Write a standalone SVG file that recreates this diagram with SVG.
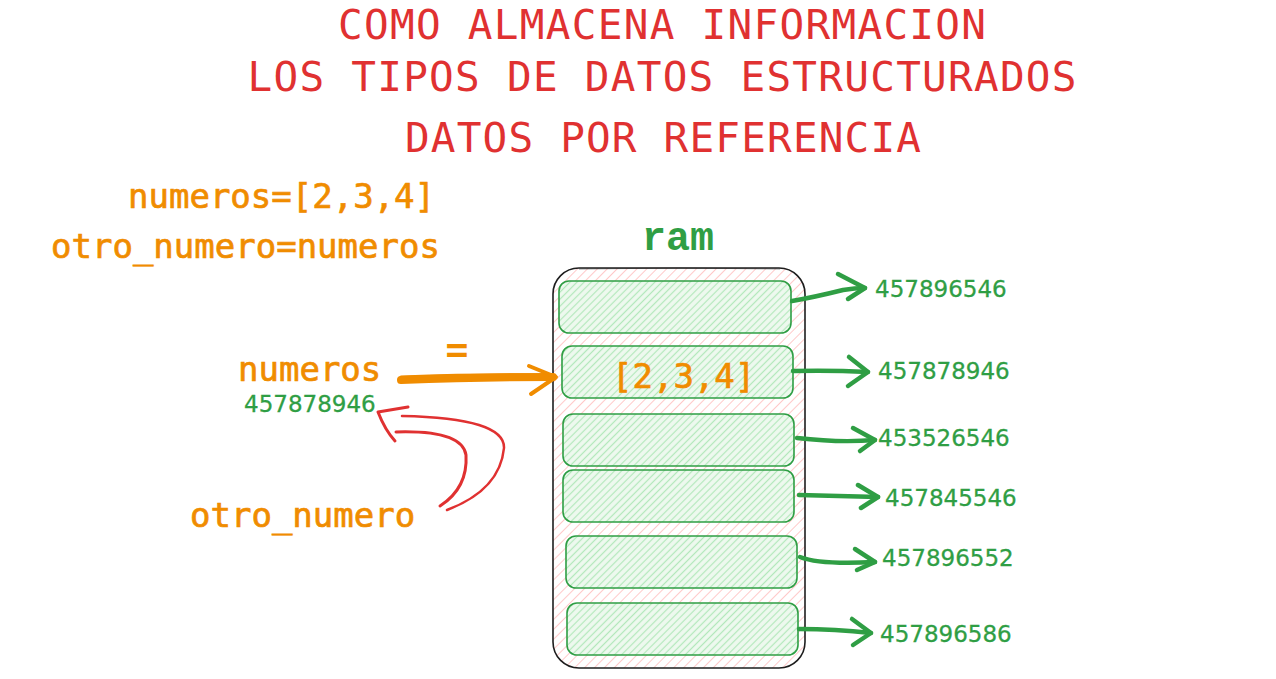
<svg xmlns="http://www.w3.org/2000/svg" width="1276" height="679" viewBox="0 0 1276 679">
  <defs>
    <pattern id="hatchPink" patternUnits="userSpaceOnUse" width="7" height="7" patternTransform="rotate(-45)">
      <line x1="0" y1="3.5" x2="7" y2="3.5" stroke="#ffc9c9" stroke-width="1"/>
    </pattern>
    <pattern id="hatchGreen" patternUnits="userSpaceOnUse" width="5" height="5" patternTransform="rotate(-45)">
      <rect width="5" height="5" fill="#eef9ef"/>
      <line x1="0" y1="2.5" x2="5" y2="2.5" stroke="#b2e8bb" stroke-width="1.2"/>
    </pattern>
  </defs>
  <style>
    .title { font-family: "DejaVu Sans Mono", "Liberation Mono", monospace; font-size: 41px; fill: #e03131; text-anchor: middle; }
    .code { font-family: "DejaVu Sans Mono", "Liberation Mono", monospace; font-size: 34px; fill: #f08c00; stroke: #f08c00; stroke-width: 0.7; }
    .addr { font-family: "DejaVu Sans", "Noto Sans", sans-serif; font-size: 23px; fill: #2f9e44; stroke: #2f9e44; stroke-width: 0.3; }
    .cell { fill: url(#hatchGreen); stroke: #2f9e44; stroke-width: 1.6; }
    .garrow { fill: none; stroke: #2f9e44; stroke-width: 4.5; stroke-linecap: round; stroke-linejoin: round; }
  </style>

  <rect width="1276" height="679" fill="#ffffff"/>

  <g id="titles">
    <text class="title" x="662" y="39" textLength="648" lengthAdjust="spacing">COMO ALMACENA INFORMACION</text>
    <text class="title" x="662" y="91" textLength="829" lengthAdjust="spacing">LOS TIPOS DE DATOS ESTRUCTURADOS</text>
    <text class="title" x="663" y="152" textLength="516" lengthAdjust="spacing">DATOS POR REFERENCIA</text>
  </g>

  <g id="code">
    <text class="code" x="128" y="208">numeros=[2,3,4]</text>
    <text class="code" x="51" y="258">otro_numero=numeros</text>
  </g>

  <g id="ram-label">
    <text x="678" y="250" text-anchor="middle" font-family="Liberation Mono, monospace" font-weight="bold" font-size="40" fill="#2f9e44">ram</text>
  </g>

  <g id="ram">
    <rect x="553" y="268" width="252" height="400" rx="26" fill="url(#hatchPink)" stroke="#1e1e1e" stroke-width="1.6"/>
    <path d="M579 269 Q680 267 780 269" fill="none" stroke="#1e1e1e" stroke-width="0.8" opacity="0.6"/>
  </g>

  <g id="cell1"><rect class="cell" x="559" y="281" width="232" height="52" rx="10"/></g>
  <g id="cell2">
    <rect class="cell" x="562" y="346" width="231" height="52" rx="10"/>
    <text class="code" x="612" y="388" font-size="33">[2,3,4]</text>
  </g>
  <g id="cell3"><rect class="cell" x="563" y="414" width="231" height="52" rx="10"/></g>
  <g id="cell4"><rect class="cell" x="563" y="470" width="231" height="52" rx="10"/></g>
  <g id="cell5"><rect class="cell" x="566" y="536" width="231" height="52" rx="10"/></g>
  <g id="cell6"><rect class="cell" x="567" y="603" width="231" height="52" rx="10"/></g>

  <g id="numeros-var">
    <text class="code" x="238" y="381">numeros</text>
    <text class="addr" x="244" y="412">457878946</text>
  </g>

  <g id="otro-numero-var">
    <text class="code" x="190" y="527">otro_numero</text>
  </g>

  <g id="equals">
    <text x="457" y="362" text-anchor="middle" font-family="DejaVu Sans Mono, monospace" font-weight="bold" font-size="38" fill="#f08c00">=</text>
  </g>

  <g id="addresses">
    <text class="addr" x="875" y="297">457896546</text>
    <text class="addr" x="878" y="379">457878946</text>
    <text class="addr" x="878" y="446">453526546</text>
    <text class="addr" x="885" y="506">457845546</text>
    <text class="addr" x="882" y="566">457896552</text>
    <text class="addr" x="880" y="642">457896586</text>
  </g>

  <g id="connectors">
    <!-- orange pointer arrow -->
    <path d="M401 380 Q480 377 553 377" fill="none" stroke="#f08c00" stroke-width="8" stroke-linecap="round"/>
    <path d="M401 377 Q480 374 550 375" fill="none" stroke="#f08c00" stroke-width="3" stroke-linecap="round"/>
    <path d="M529 366 L556 377 L531 394" fill="none" stroke="#f08c00" stroke-width="4" stroke-linecap="round" stroke-linejoin="round"/>

    <!-- red reference arrow -->
    <path d="M440 506 Q468 488 466 455 Q462 430 396 432" fill="none" stroke="#e03131" stroke-width="3" stroke-linecap="round"/>
    <path d="M447 510 Q500 490 504 448 Q505 418 402 416" fill="none" stroke="#e03131" stroke-width="2.5" stroke-linecap="round"/>
    <path d="M408 407 L378 412 Q385 430 395 441" fill="none" stroke="#e03131" stroke-width="3" stroke-linecap="round" stroke-linejoin="round"/>

    <!-- green address arrows -->
    <path class="garrow" d="M792 301 Q815 297 843 290 Q855 288 865 288"/>
    <path class="garrow" d="M838 274 L865 288 L848 299"/>

    <path class="garrow" d="M793 371 Q830 370 868 372"/>
    <path class="garrow" d="M849 357 L868 372 L848 386"/>

    <path class="garrow" d="M797 438 Q840 443 875 440"/>
    <path class="garrow" d="M853 428 L875 440 L860 451"/>

    <path class="garrow" d="M799 495 Q840 496 878 497"/>
    <path class="garrow" d="M858 485 L878 497 L861 508"/>

    <path class="garrow" d="M800 557 Q820 565 875 562"/>
    <path class="garrow" d="M855 549 L875 562 L857 570"/>

    <path class="garrow" d="M799 629 Q835 629 871 633"/>
    <path class="garrow" d="M852 619 L871 633 L853 645"/>
  </g>
</svg>
